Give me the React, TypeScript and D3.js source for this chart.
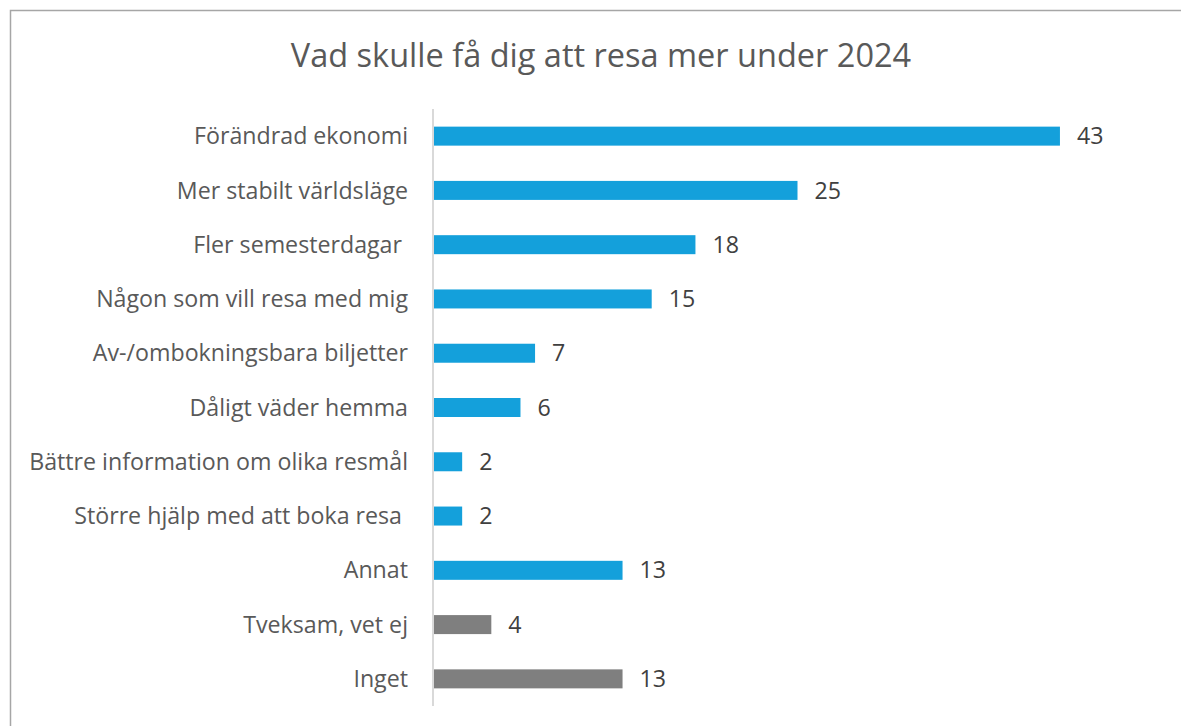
import React, { useEffect, useRef } from 'react'
import * as d3 from 'd3'

// survey data
const categories = [
  'Förändrad ekonomi',
  'Mer stabilt världsläge',
  'Fler semesterdagar ',
  'Någon som vill resa med mig',
  'Av-/ombokningsbara biljetter',
  'Dåligt väder hemma',
  'Bättre information om olika resmål',
  'Större hjälp med att boka resa ',
  'Annat',
  'Tveksam, vet ej',
  'Inget',
]
const values = [43, 25, 18, 15, 7, 6, 2, 2, 13, 4, 13]
const grayCategories = ['Tveksam, vet ej', 'Inget']
const title = 'Vad skulle få dig att resa mer under 2024'

const W = 1181
const H = 726
const FONT = '"Open Sans", Calibri, sans-serif'

export default function App() {
  const labelRef = useRef<SVGGElement>(null)

  const x = d3.scaleLinear().domain([0, 50]).range([433, 433 + 729])
  const y = d3
    .scaleBand<string>()
    .domain(categories)
    .range([109, 706])
    .paddingInner(0.65)
    .paddingOuter(0.325)

  const rows = categories.map((c, i) => ({ name: c, value: values[i] }))

  return (
    <svg
      width={W}
      height={H}
      style={{ position: 'absolute', left: 0, top: 0, background: '#fff' }}
      fontFamily={FONT}
    >
      <rect x={10.5} y={10.5} width={W + 20} height={H + 20} fill="#fff" stroke="#a6a6a6" strokeWidth={1.5} />
      <text x={601} y={67} textAnchor="middle" fontSize={32.5} fill="#595959">
        {title}
      </text>
      <line x1={x(0)} x2={x(0)} y1={109} y2={706} stroke="#d9d9d9" strokeWidth={2} />
      <g ref={labelRef}>
        {rows.map(d => {
          const cy = (y(d.name) || 0) + y.bandwidth() / 2
          const gray = grayCategories.indexOf(d.name) >= 0
          return (
            <g key={d.name}>
              <rect
                x={x(0) + 1}
                y={y(d.name)}
                width={x(d.value) - x(0) - 1}
                height={y.bandwidth()}
                fill={gray ? '#7f7f7f' : '#14a0db'}
              />
              <text
                x={408}
                y={cy}
                dy="0.35em"
                textAnchor="end"
                fontSize={23.2}
                fill="#595959"
                style={{ whiteSpace: 'pre' }}
              >
                {d.name}
              </text>
              <text x={x(d.value) + 17} y={cy} dy="0.35em" fontSize={23.2} fill="#404040">
                {d.value}
              </text>
            </g>
          )
        })}
      </g>
    </svg>
  )
}
